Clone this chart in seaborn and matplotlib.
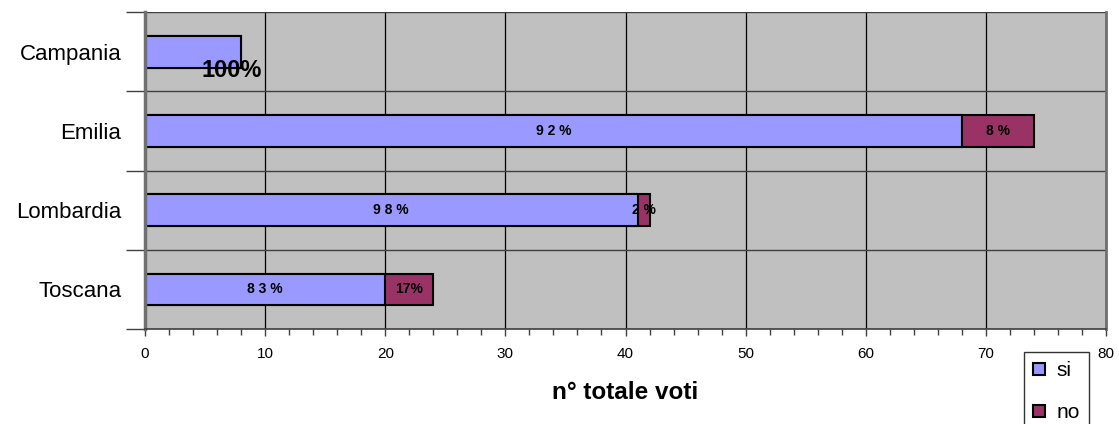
import numpy as np
import pandas as pd
import matplotlib
matplotlib.use("Agg")
import matplotlib.pyplot as plt
from matplotlib.patches import Patch
from matplotlib.ticker import MultipleLocator, FixedLocator
import seaborn as sns

regioni = ['Campania', 'Emilia', 'Lombardia', 'Toscana']
voti_si = [8, 68, 41, 20]
voti_no = [0, 6, 1, 4]

col_si = '#9999FF'
col_no = '#993366'

sns.set_style('white')
plt.rcParams['font.family'] = ['Liberation Sans', 'DejaVu Sans']
plt.rcParams['text.color'] = 'black'
plt.rcParams['axes.labelcolor'] = 'black'
plt.rcParams['xtick.color'] = 'black'
plt.rcParams['ytick.color'] = 'black'

df = pd.DataFrame({'regione': regioni, 'si': voti_si, 'no': voti_no})
df['totale'] = df['si'] + df['no']

fig = plt.figure(figsize=(11.19, 4.24), dpi=100)
ax = fig.add_axes([0.1296, 0.224, 0.8588, 0.7476])
ax.set_facecolor('#C0C0C0')

# stacked bars: total first, then "si" on top of it
sns.barplot(data=df, y='regione', x='totale', color=col_no, orient='h',
            width=0.4, edgecolor='black', linewidth=1.5, saturation=1, ax=ax)
sns.barplot(data=df, y='regione', x='si', color=col_si, orient='h',
            width=0.4, edgecolor='black', linewidth=1.5, saturation=1, ax=ax)

ax.set_xlim(0, 80)
ax.set_ylim(len(regioni) - 0.5, -0.5)
ax.xaxis.set_major_locator(MultipleLocator(10))
ax.xaxis.set_minor_locator(MultipleLocator(2))
ax.yaxis.set_minor_locator(FixedLocator(np.arange(-0.5, len(regioni), 1.0)))
ax.grid(True, axis='x', which='major', color='black', linewidth=0.9)
ax.grid(True, axis='y', which='minor', color='#404040', linewidth=1.0)
ax.set_axisbelow(True)

ax.tick_params(axis='x', which='major', length=5, width=1, labelsize=11, pad=8,
               direction='out', bottom=True, color='#404040')
ax.tick_params(axis='x', which='minor', length=4, width=1, direction='out',
               bottom=True, color='#404040')
ax.tick_params(axis='y', which='major', length=0, labelsize=16, pad=17)
ax.tick_params(axis='y', which='minor', length=14, width=1, color='#404040',
               direction='out', left=True)

ax.spines['top'].set_visible(False)
ax.spines['left'].set_color('#707070')
ax.spines['left'].set_linewidth(2.5)
ax.spines['right'].set_color('#707070')
ax.spines['right'].set_linewidth(2.0)
ax.spines['bottom'].set_color('#404040')
ax.spines['bottom'].set_linewidth(1.2)

ax.set_ylabel('')
ax.set_xlabel('n° totale voti', fontsize=17.5, fontweight='bold', labelpad=14)


def spaced(s):
    return ' '.join(s[:-1]) + ' %' if len(s) <= 3 else s


# percentage labels
for i, r in df.iterrows():
    tot = r['totale']
    if r['no'] == 0:
        ax.text(r['si'] * 0.9, i + 0.24, '100%', ha='center', va='center',
                fontsize=17, fontweight='bold')
        continue
    p_si = round(100 * r['si'] / tot)
    p_no = round(100 * r['no'] / tot)
    ax.text(r['si'] / 2, i, spaced(f'{p_si}%'), ha='center', va='center',
            fontsize=10, fontweight='bold')
    lab_no = spaced(f'{p_no}%') if p_no < 10 else f'{p_no}%'
    ax.text(r['si'] + r['no'] / 2, i, lab_no, ha='center', va='center',
            fontsize=10, fontweight='bold')

handles = [Patch(facecolor=col_si, edgecolor='black', linewidth=1.5, label='si'),
           Patch(facecolor=col_no, edgecolor='black', linewidth=1.5, label='no')]
leg = fig.legend(handles=handles, loc='upper left', bbox_to_anchor=(0.915, 0.170),
                 frameon=True, fancybox=False, edgecolor='black', fontsize=15,
                 handlelength=0.55, handleheight=0.55, handletextpad=0.55,
                 labelspacing=1.1, borderpad=0.45, borderaxespad=0)
leg.get_frame().set_linewidth(1.0)

fig.savefig('out.png', dpi=100)
